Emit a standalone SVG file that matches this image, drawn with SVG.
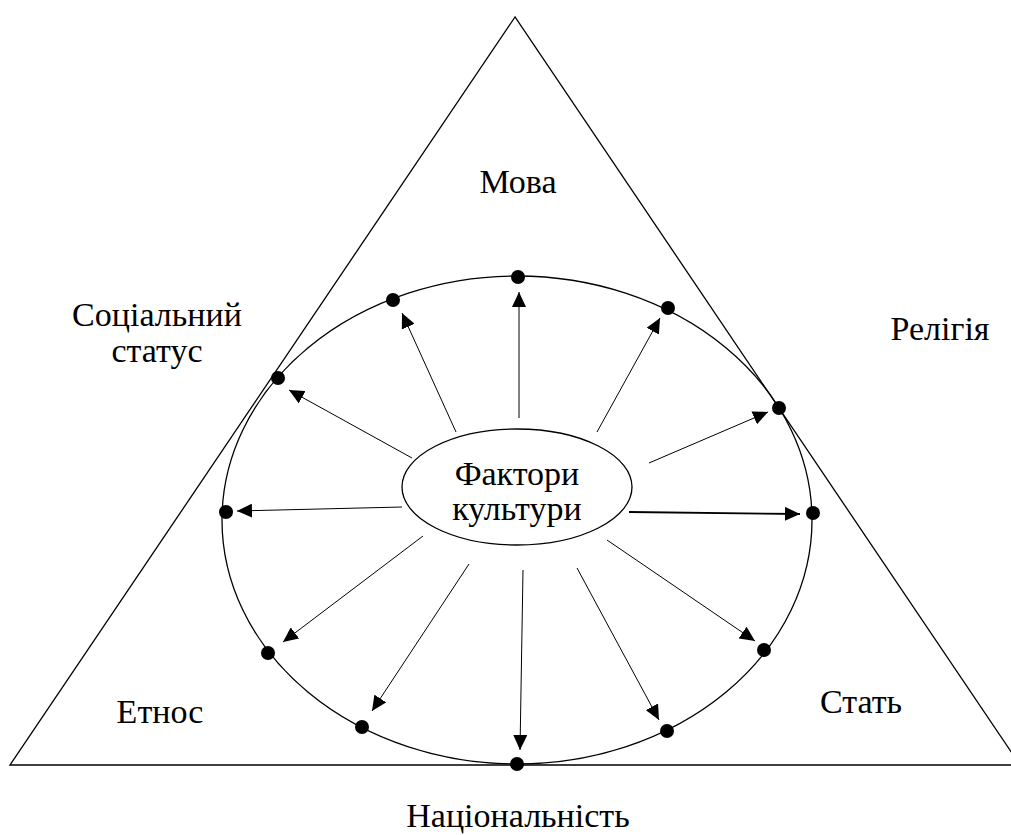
<svg xmlns="http://www.w3.org/2000/svg" width="1011" height="835" viewBox="0 0 1011 835">
<style>
svg text.t{font-family:'Liberation Serif','Times New Roman',serif !important;font-size:34px;text-anchor:middle;fill:#000}
.ln{fill:none;stroke:#000;stroke-width:1.3}
</style>
<defs>
<marker id="ah" markerUnits="userSpaceOnUse" markerWidth="16" markerHeight="14" refX="15" refY="7" orient="auto">
<path d="M0,0 L15,7 L0,14 Z" fill="#000"/>
</marker>
</defs>
<g id="triangle"><polygon class="ln" points="515,17 10,765 1020,765"/></g>
<g id="outer-ellipse"><ellipse class="ln" cx="517" cy="520" rx="295" ry="244"/></g>
<g id="center"><ellipse class="ln" cx="517" cy="487" rx="115" ry="58"/>
<text class="t" x="517" y="485" font-family="Liberation Serif">Фактори</text>
<text class="t" x="517" y="520" font-family="Liberation Serif">культури</text></g>
<g id="label-mova"><text class="t" x="518" y="193" font-family="Liberation Serif">Мова</text></g>
<g id="label-status"><text class="t" x="157" y="326" font-family="Liberation Serif">Соціальний</text>
<text class="t" x="157" y="362" font-family="Liberation Serif">статус</text></g>
<g id="label-religion"><text class="t" x="940" y="340" font-family="Liberation Serif">Релігія</text></g>
<g id="label-ethnos"><text class="t" x="160" y="723" font-family="Liberation Serif">Етнос</text></g>
<g id="label-gender"><text class="t" x="861" y="713" font-family="Liberation Serif">Стать</text></g>
<g id="label-nation"><text class="t" x="518" y="827" font-family="Liberation Serif">Національність</text></g>
<g id="connectors" stroke="#000" stroke-width="1" fill="none" marker-end="url(#ah)">
<line x1="519" y1="418" x2="519" y2="292"/>
<line x1="456" y1="432" x2="402" y2="313"/>
<line x1="597" y1="432" x2="660" y2="318"/>
<line x1="412" y1="458" x2="289" y2="390"/>
<line x1="649" y1="463" x2="768" y2="412"/>
<line x1="402" y1="507" x2="237" y2="511"/>
<line stroke-width="1.8" x1="629" y1="512" x2="800" y2="514"/>
<line x1="423" y1="536" x2="283" y2="642"/>
<line x1="607" y1="540" x2="755" y2="641"/>
<line x1="469" y1="564" x2="372" y2="711"/>
<line x1="577" y1="568" x2="659" y2="720"/>
<line x1="523" y1="570" x2="520" y2="750"/>
</g>
<g id="dots" fill="#000">
<circle cx="518" cy="277" r="7"/>
<circle cx="393" cy="300" r="7"/>
<circle cx="668" cy="308" r="7"/>
<circle cx="278" cy="378" r="7"/>
<circle cx="779" cy="408" r="7"/>
<circle cx="226" cy="512" r="7"/>
<circle cx="813" cy="513" r="7"/>
<circle cx="268" cy="653" r="7"/>
<circle cx="764" cy="650" r="7"/>
<circle cx="362" cy="727" r="7"/>
<circle cx="667" cy="731" r="7"/>
<circle cx="517" cy="764" r="7"/>
</g>
</svg>
